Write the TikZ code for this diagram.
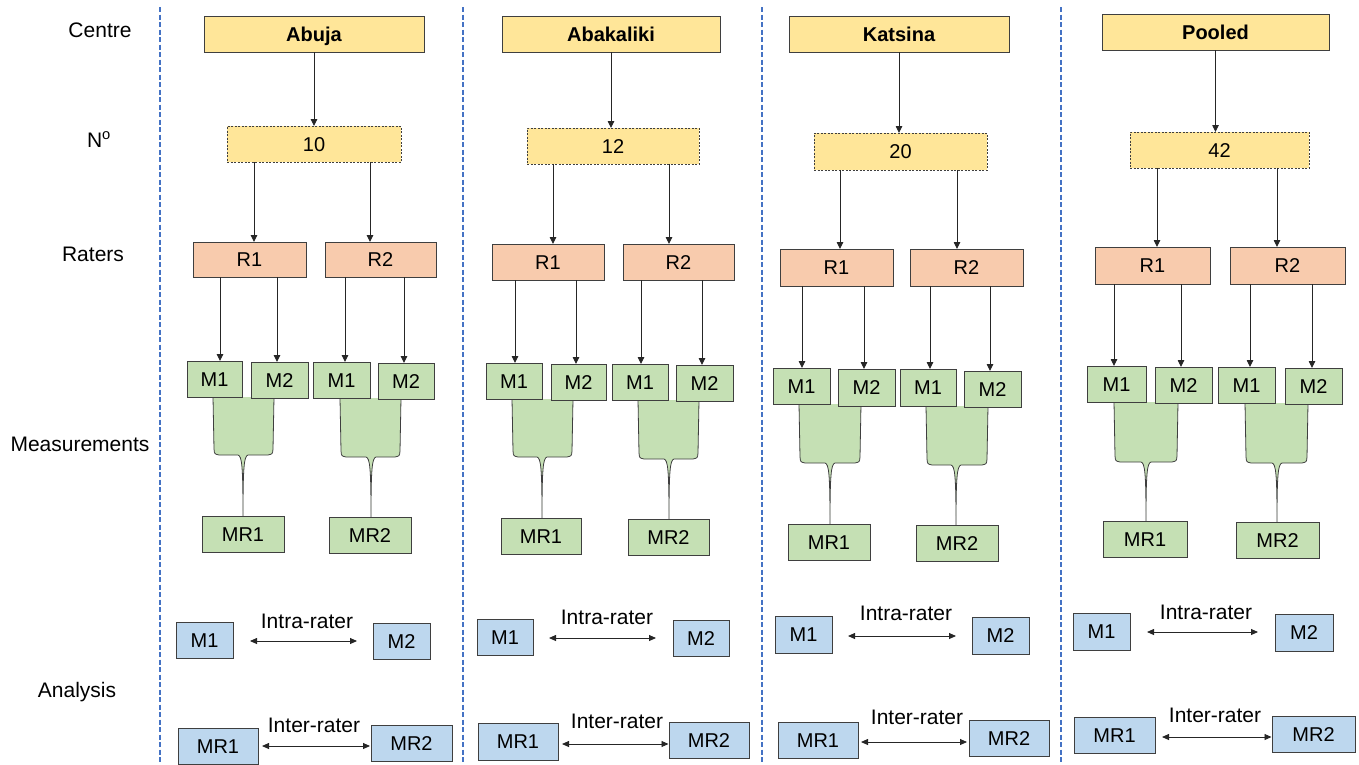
\documentclass[tikz,border=0pt]{standalone}
\usepackage{fontspec}
\setmainfont{Liberation Sans}
\usetikzlibrary{arrows.meta}

\definecolor{cyel}{HTML}{FFE699}
\definecolor{cpeach}{HTML}{F8CBAD}
\definecolor{cgrn}{HTML}{C5E0B4}
\definecolor{cblu}{HTML}{BDD7EE}
\definecolor{cedge}{HTML}{3F3F3F}
\definecolor{csep}{HTML}{4472C4}

% box given by its left, top, right and bottom edges
\newcommand\putbox[7]{%
  \node[#6, minimum width={#4pt-#2pt}, minimum height={#5pt-#3pt}]
    (#1) at ({(#2+#4)/2},{(#3+#5)/2}) {#7};}

% merging shape: left x, right x, top y, bottom y, spike x, spike end y
\newcommand\funnel[6]{%
  \fill[cgrn] (#1,#3) -- (#1+1,#4-6) .. controls (#1+1.5,#4-1) .. (#1+6,#4)
    -- (#5-5,#4) .. controls (#5-1,#4+1) and (#5,#4+12) .. (#5,#6)
    .. controls (#5,#4+12) and (#5+1,#4+1) .. (#5+5,#4)
    -- (#2-6,#4) .. controls (#2-1.5,#4-1) .. (#2-1,#4-6) -- (#2,#3) -- cycle;
  \draw[fedge] (#1,#3) -- (#1+1,#4-6) .. controls (#1+1.5,#4-1) .. (#1+6,#4)
    -- (#5-5,#4) .. controls (#5-1,#4+1) and (#5,#4+12) .. (#5,#6)
    .. controls (#5,#4+12) and (#5+1,#4+1) .. (#5+5,#4)
    -- (#2-6,#4) .. controls (#2-1.5,#4-1) .. (#2-1,#4-6) -- (#2,#3);}

\begin{document}
\begin{tikzpicture}[x=1pt,y=-1pt,
  base/.style={draw=cedge, line width=1pt, inner sep=0pt, outer sep=0pt,
    font=\fontsize{20}{24}\selectfont, text height=14.5pt, text depth=0pt},
  centrebox/.style={base, fill=cyel, font=\fontsize{20}{24}\selectfont\bfseries},
  numbox/.style={base, fill=cyel, dash pattern=on 2pt off 1.5pt},
  raterbox/.style={base, fill=cpeach},
  measbox/.style={base, fill=cgrn},
  anbox/.style={base, fill=cblu},
  lab/.style={inner sep=0pt, font=\fontsize{21}{25}\selectfont,
    text height=15pt, text depth=0pt},
  fedge/.style={draw=cedge, line width=0.8pt},
  arr/.style={draw=black!85, line width=0.9pt,
    -{Triangle[length=7pt,width=6.5pt]}},
  darr/.style={draw=black!85, line width=0.9pt,
    {Triangle[length=7pt,width=6pt]}-{Triangle[length=7pt,width=6pt]}},
  sep/.style={draw=csep, line width=1.8pt, dash pattern=on 5pt off 2.5pt}]
\useasboundingbox (0,0) rectangle (1359,764);

% row headings
\node[lab] (hcentre) at (100,30) {Centre};
\node[lab] (hnum) at (99,140) {N\textsuperscript{o}};
\node[lab] (hraters) at (93,254) {Raters};
\node[lab] (hmeas) at (80,444) {Measurements};
\node[lab] (hanal) at (77,690) {Analysis};

% column separators
\coordinate (s1t) at (160,7);  \coordinate (s1b) at (160,764);
\coordinate (s2t) at (463,7);  \coordinate (s2b) at (463,764);
\coordinate (s3t) at (762,7);  \coordinate (s3b) at (762,764);
\coordinate (s4t) at (1061,7); \coordinate (s4b) at (1061,764);
\draw[sep] (s1t) -- (s1b);
\draw[sep] (s2t) -- (s2b);
\draw[sep] (s3t) -- (s3b);
\draw[sep] (s4t) -- (s4b);

% ---------------- Abuja ----------------
\putbox{c1}{204}{16}{424}{52}{centrebox}{Abuja}
\putbox{n1}{227}{126}{401}{162}{numbox}{10}
\putbox{r1a}{193}{242}{306}{277}{raterbox}{R1}
\putbox{r1b}{325}{242}{436}{277}{raterbox}{R2}
\funnel{213}{274}{397}{455}{243}{516}
\funnel{340}{401}{398}{457}{371}{517}
\putbox{m1a}{187}{361}{242}{397}{measbox}{M1}
\putbox{m1b}{251}{362}{308}{398}{measbox}{M2}
\putbox{m1c}{313}{362}{370}{398}{measbox}{M1}
\putbox{m1d}{378}{363}{434}{399}{measbox}{M2}
\putbox{mr1a}{202}{516}{284}{552}{measbox}{MR1}
\putbox{mr1b}{329}{517}{411}{553}{measbox}{MR2}
\putbox{am1a}{176}{622}{233}{658}{anbox}{M1}
\putbox{am1b}{373}{623}{430}{659}{anbox}{M2}
\putbox{amr1a}{178}{728}{258}{764}{anbox}{MR1}
\putbox{amr1b}{371}{725}{452}{761}{anbox}{MR2}
\node[lab] (intra1) at (307,621) {Intra-rater};
\node[lab] (inter1) at (314,725) {Inter-rater};
\draw[arr] (c1.south) -- (c1.south |- n1.north);
\draw[arr] (254,0 |- n1.south) -- (254,0 |- r1a.north);
\draw[arr] (370,0 |- n1.south) -- (370,0 |- r1b.north);
\draw[arr] (220,0 |- r1a.south) -- (220,0 |- m1a.north);
\draw[arr] (277,0 |- r1a.south) -- (277,0 |- m1b.north);
\draw[arr] (345,0 |- r1b.south) -- (345,0 |- m1c.north);
\draw[arr] (404,0 |- r1b.south) -- (404,0 |- m1d.north);
\draw[darr, shorten <=17pt, shorten >=16pt] (am1a.east |- 0,641) -- (am1b.west |- 0,641);
\draw[darr, shorten <=4pt, shorten >=1pt] (amr1a.east |- 0,746) -- (amr1b.west |- 0,746);

% ---------------- Abakaliki ----------------
\putbox{c2}{502}{16}{720}{52}{centrebox}{Abakaliki}
\putbox{n2}{527}{128}{699}{164}{numbox}{12}
\putbox{r2a}{492}{244}{604}{280}{raterbox}{R1}
\putbox{r2b}{623}{244}{734}{280}{raterbox}{R2}
\funnel{512}{573}{399}{457}{542}{518}
\funnel{638}{699}{400}{459}{669}{519}
\putbox{m2a}{486}{363}{542}{399}{measbox}{M1}
\putbox{m2b}{551}{364}{606}{400}{measbox}{M2}
\putbox{m2c}{612}{364}{668}{400}{measbox}{M1}
\putbox{m2d}{676}{365}{733}{401}{measbox}{M2}
\putbox{mr2a}{501}{518}{581}{554}{measbox}{MR1}
\putbox{mr2b}{628}{519}{709}{555}{measbox}{MR2}
\putbox{am2a}{477}{619}{533}{655}{anbox}{M1}
\putbox{am2b}{673}{620}{729}{656}{anbox}{M2}
\putbox{amr2a}{478}{723}{558}{760}{anbox}{MR1}
\putbox{amr2b}{669}{722}{749}{758}{anbox}{MR2}
\node[lab] (intra2) at (607,617) {Intra-rater};
\node[lab] (inter2) at (617,721) {Inter-rater};
\draw[arr] (c2.south) -- (c2.south |- n2.north);
\draw[arr] (553,0 |- n2.south) -- (553,0 |- r2a.north);
\draw[arr] (669,0 |- n2.south) -- (669,0 |- r2b.north);
\draw[arr] (515,0 |- r2a.south) -- (515,0 |- m2a.north);
\draw[arr] (576,0 |- r2a.south) -- (576,0 |- m2b.north);
\draw[arr] (641,0 |- r2b.south) -- (641,0 |- m2c.north);
\draw[arr] (702,0 |- r2b.south) -- (702,0 |- m2d.north);
\draw[darr, shorten <=16pt, shorten >=17pt] (am2a.east |- 0,638) -- (am2b.west |- 0,638);
\draw[darr, shorten <=4pt, shorten >=0.5pt] (amr2a.east |- 0,744) -- (amr2b.west |- 0,744);

% ---------------- Katsina ----------------
\putbox{c3}{789}{16}{1009}{52}{centrebox}{Katsina}
\putbox{n3}{814}{133}{987}{170}{numbox}{20}
\putbox{r3a}{780}{249}{893}{286}{raterbox}{R1}
\putbox{r3b}{910}{249}{1023}{286}{raterbox}{R2}
\funnel{799}{861}{404}{463}{830}{524}
\funnel{926}{988}{406}{465}{956}{525}
\putbox{m3a}{773}{368}{830}{404}{measbox}{M1}
\putbox{m3b}{838}{369}{895}{406}{measbox}{M2}
\putbox{m3c}{900}{369}{956}{406}{measbox}{M1}
\putbox{m3d}{964}{371}{1021}{407}{measbox}{M2}
\putbox{mr3a}{788}{524}{870}{560}{measbox}{MR1}
\putbox{mr3b}{916}{525}{998}{561}{measbox}{MR2}
\putbox{am3a}{775}{616}{832}{653}{anbox}{M1}
\putbox{am3b}{972}{617}{1029}{654}{anbox}{M2}
\putbox{amr3a}{778}{722}{858}{758}{anbox}{MR1}
\putbox{amr3b}{969}{720}{1049}{756}{anbox}{MR2}
\node[lab] (intra3) at (906,613) {Intra-rater};
\node[lab] (inter3) at (917,717) {Inter-rater};
\draw[arr] (c3.south) -- (c3.south |- n3.north);
\draw[arr] (840,0 |- n3.south) -- (840,0 |- r3a.north);
\draw[arr] (957,0 |- n3.south) -- (957,0 |- r3b.north);
\draw[arr] (802,0 |- r3a.south) -- (802,0 |- m3a.north);
\draw[arr] (864,0 |- r3a.south) -- (864,0 |- m3b.north);
\draw[arr] (930,0 |- r3b.south) -- (930,0 |- m3c.north);
\draw[arr] (990,0 |- r3b.south) -- (990,0 |- m3d.north);
\draw[darr, shorten <=16pt, shorten >=16pt] (am3a.east |- 0,636) -- (am3b.west |- 0,636);
\draw[darr, shorten <=3pt, shorten >=2pt] (amr3a.east |- 0,742) -- (amr3b.west |- 0,742);

% ---------------- Pooled ----------------
\putbox{c4}{1102}{14}{1329}{50}{centrebox}{Pooled}
\putbox{n4}{1130}{132}{1309}{168}{numbox}{42}
\putbox{r4a}{1095}{247}{1210}{284}{raterbox}{R1}
\putbox{r4b}{1230}{247}{1345}{284}{raterbox}{R2}
\funnel{1114}{1178}{402}{462}{1146}{521}
\funnel{1245}{1308}{403}{463}{1277}{522}
\putbox{m4a}{1087}{366}{1146}{402}{measbox}{M1}
\putbox{m4b}{1155}{367}{1212}{403}{measbox}{M2}
\putbox{m4c}{1218}{367}{1275}{403}{measbox}{M1}
\putbox{m4d}{1285}{368}{1342}{404}{measbox}{M2}
\putbox{mr4a}{1103}{521}{1187}{557}{measbox}{MR1}
\putbox{mr4b}{1236}{522}{1319}{558}{measbox}{MR2}
\putbox{am4a}{1073}{613}{1130}{650}{anbox}{M1}
\putbox{am4b}{1275}{614}{1333}{651}{anbox}{M2}
\putbox{amr4a}{1074}{717}{1155}{753}{anbox}{MR1}
\putbox{amr4b}{1272}{716}{1355}{752}{anbox}{MR2}
\node[lab] (intra4) at (1206,612) {Intra-rater};
\node[lab] (inter4) at (1215,715) {Inter-rater};
\draw[arr] (c4.south) -- (c4.south |- n4.north);
\draw[arr] (1157,0 |- n4.south) -- (1157,0 |- r4a.north);
\draw[arr] (1277,0 |- n4.south) -- (1277,0 |- r4b.north);
\draw[arr] (1114,0 |- r4a.south) -- (1114,0 |- m4a.north);
\draw[arr] (1181,0 |- r4a.south) -- (1181,0 |- m4b.north);
\draw[arr] (1250,0 |- r4b.south) -- (1250,0 |- m4c.north);
\draw[arr] (1312,0 |- r4b.south) -- (1312,0 |- m4d.north);
\draw[darr, shorten <=17pt, shorten >=17pt] (am4a.east |- 0,632) -- (am4b.west |- 0,632);
\draw[darr, shorten <=7pt, shorten >=0.5pt] (amr4a.east |- 0,737) -- (amr4b.west |- 0,737);
\end{tikzpicture}
\end{document}
